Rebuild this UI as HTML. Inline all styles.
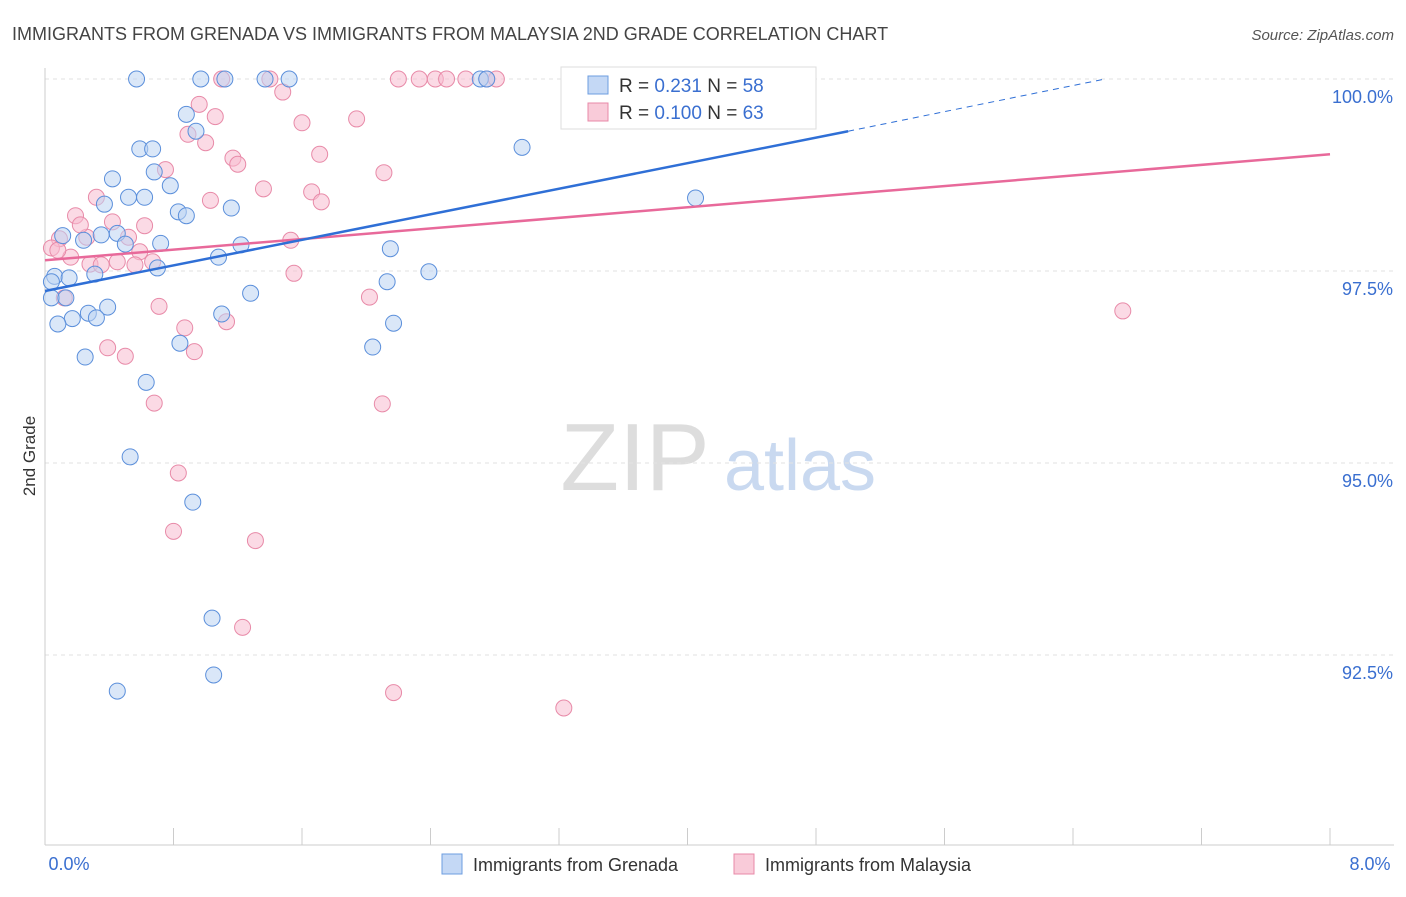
<!DOCTYPE html>
<html><head><meta charset="utf-8"><style>
body{margin:0;background:#fff;font-family:"Liberation Sans",sans-serif}
svg text{font-family:"Liberation Sans",sans-serif}
</style></head><body>
<svg id="c" width="1406" height="892">
<text x="12" y="40" font-size="18" fill="#444">IMMIGRANTS FROM GRENADA VS IMMIGRANTS FROM MALAYSIA 2ND GRADE CORRELATION CHART</text>
<text x="1394" y="40" font-size="15" fill="#555" text-anchor="end" font-style="italic">Source: ZipAtlas.com</text>
<text x="35" y="456" font-size="17" fill="#333" text-anchor="middle" transform="rotate(-90 35 456)">2nd Grade</text>
<g><text x="635" y="490" font-size="96" fill="#ddd" font-family="Liberation Serif" text-anchor="middle">ZIP</text><text x="800" y="490" font-size="72" fill="#c9d9f0" text-anchor="middle">atlas</text></g>
<g id="grid"></g><g id="axes"></g><g id="marks"></g>
<g>
<rect x="561" y="67" width="255" height="62" fill="#fff" stroke="#ddd"/>
<rect x="588" y="76" width="20" height="18" fill="#c4d8f5" stroke="#6d9ee0"/>
<text x="619" y="92" font-size="19" fill="#333">R = <tspan fill="#3a6fd0">0.231</tspan>   N = <tspan fill="#3a6fd0">58</tspan></text>
<rect x="588" y="103" width="20" height="18" fill="#f9cbd9" stroke="#e88aa8"/>
<text x="619" y="119" font-size="19" fill="#333">R = <tspan fill="#3a6fd0">0.100</tspan>   N = <tspan fill="#3a6fd0">63</tspan></text>
</g>
<g>
<rect x="442" y="854" width="20" height="20" fill="#c4d8f5" stroke="#6d9ee0"/>
<text x="473" y="871" font-size="18" fill="#333">Immigrants from Grenada</text>
<rect x="734" y="854" width="20" height="20" fill="#f9cbd9" stroke="#e88aa8"/>
<text x="765" y="871" font-size="18" fill="#333">Immigrants from Malaysia</text>
</g>
</svg>
<script>
const yTicks=[100,97.5,95,92.5];
const yTickLabels=["100.0%","97.5%","95.0%","92.5%"];
const xLabels=["0.0%","8.0%"];
const blueX=[0.57,0.97,1.12,1.37,1.52,2.71,2.75,4.74,0.88,0.94,0.59,0.67,2.97,0.42,0.68,0.78,0.37,0.52,0.62,0.83,0.88,1.16,4.05,0.11,0.24,0.35,0.45,0.50,0.72,1.22,1.08,2.15,0.70,2.39,0.06,0.15,0.31,2.13,1.28,0.04,0.13,0.39,0.27,0.32,0.17,0.08,1.10,2.17,0.84,2.04,0.25,0.63,0.53,0.92,1.04,0.45,1.05,0.04];
const blueY=[100,100,100,100,100,100,100,99.75,99.54,99.32,99.09,99.09,99.11,98.70,98.79,98.61,98.37,98.46,98.46,98.27,98.22,98.32,98.45,97.96,97.90,97.97,97.99,97.85,97.86,97.84,97.68,97.79,97.54,97.49,97.43,97.41,97.46,97.36,97.21,97.15,97.15,97.03,96.95,96.89,96.88,96.81,96.94,96.82,96.56,96.51,96.38,96.05,95.08,94.49,92.98,92.03,92.24,97.36];
const pinkX=[1.10,1.40,2.20,2.33,2.43,2.50,2.62,2.75,2.81,3.39,1.48,0.96,1.06,1.60,1.94,0.89,1.00,1.17,1.20,0.75,1.71,2.11,1.36,1.66,1.72,1.03,0.32,0.19,0.42,0.62,0.09,0.26,0.52,1.53,0.04,0.16,0.59,0.28,0.67,1.55,0.45,0.35,0.56,0.12,2.02,0.71,0.87,1.13,0.39,0.50,0.93,0.68,2.10,0.83,0.80,1.31,1.23,2.17,3.23,6.71,0.08,0.22];
const pinkY=[100,100,100,100,100,100,100,100,100,100,99.83,99.67,99.51,99.43,99.48,99.28,99.17,98.97,98.89,98.82,99.02,98.78,98.57,98.53,98.40,98.42,98.46,98.22,98.14,98.09,97.92,97.94,97.94,97.90,97.80,97.68,97.75,97.59,97.62,97.47,97.62,97.58,97.58,97.15,97.16,97.04,96.76,96.84,96.50,96.39,96.45,95.78,95.77,94.87,94.11,93.99,92.86,92.01,91.81,96.98,97.77,98.10];
const blueTrend=[[0,97.24],[5.0,99.32]];
const blueTrendDash=[[5.0,99.32],[6.6,100]];
const pinkTrend=[[0,97.64],[8,99.02]];
const X0=45,X1=1330,Y100=79,PXPER=76.8;
const sx=v=>X0+(X1-X0)*v/8, sy=v=>Y100+(100-v)*PXPER;
const NS="http://www.w3.org/2000/svg";
function mk(p,t,a){const e=document.createElementNS(NS,t);for(const k in a)e.setAttribute(k,a[k]);p.appendChild(e);return e;}
const grid=document.getElementById('grid'),axes=document.getElementById('axes'),marks=document.getElementById('marks');
yTicks.forEach((t,i)=>{
 const l=mk(grid,'line',{x1:X0,x2:1394,y1:sy(t),y2:sy(t),stroke:'#e2e2e2','stroke-dasharray':'4,4'});
 
 
 const tx=mk(axes,'text',{x:1393,y:sy(t)+24,'font-size':18,fill:'#3a6fd0','text-anchor':'end'});tx.textContent=yTickLabels[i];
 
 
});
const ax=mk(axes,'line',{x1:X0,x2:X0,y1:68,y2:845,stroke:'#ccc'});


const bx=mk(axes,'line',{x1:X0,x2:1394,y1:845,y2:845,stroke:'#ccc'});


for(let i=1;i<=10;i++){const t=mk(axes,'line',{x1:sx(i*0.8),x2:sx(i*0.8),y1:828,y2:845,stroke:'#ccc'});
 
 }
[[X0+24,xLabels[0]],[1370,xLabels[1]]].forEach(([x,s])=>{const t=mk(axes,'text',{x:x,y:870,'font-size':18,fill:'#3a6fd0','text-anchor':'middle'});t.textContent=s;
 
 });
function dots(xs,ys,fill,stroke,name){xs.forEach((x,i)=>{const c=mk(marks,'circle',{cx:sx(x),cy:sy(ys[i]),r:8,fill:fill,'fill-opacity':0.55,stroke:stroke,'stroke-width':1});
 
 });}
dots(pinkX,pinkY,'#f7bcd0','#e88aa8','malaysia-point');
dots(blueX,blueY,'#bcd3f3','#5b8fdb','grenada-point');
function tl(p,col,dash,name){const l=mk(marks,'line',{x1:sx(p[0][0]),y1:sy(p[0][1]),x2:sx(p[1][0]),y2:sy(p[1][1]),stroke:col,'stroke-width':dash?1:2.5,'stroke-dasharray':dash?'6,5':'none'});
 
 }
tl(pinkTrend,'#e8699a',false,'malaysia-trend-line');
tl(blueTrend,'#2f6fd6',false,'grenada-trend-line');
tl(blueTrendDash,'#2f6fd6',true,'grenada-trend-extension');
</script>
</body></html>
